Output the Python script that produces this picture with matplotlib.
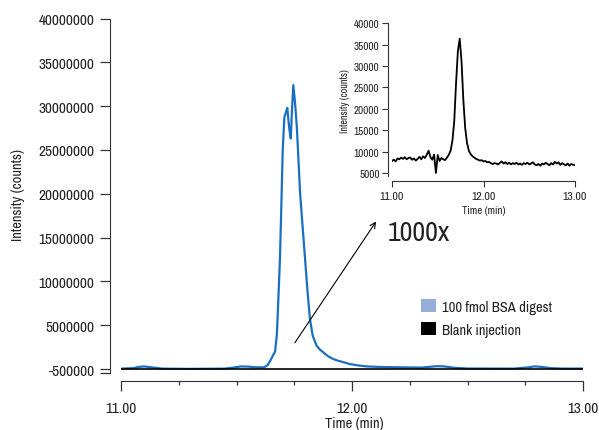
import matplotlib
matplotlib.use("Agg")
import matplotlib.pyplot as plt
from matplotlib.patches import Patch
from matplotlib.ticker import MultipleLocator

plt.rcParams['font.family'] = ['Archivo Narrow', 'DejaVu Sans']

# ---- main chromatogram (100 fmol BSA digest), intensity in counts ----
bsa_time = [11.00, 11.05, 11.08, 11.10, 11.13, 11.18, 11.30, 11.45, 11.49, 11.52,
            11.55, 11.58, 11.62, 11.635, 11.645, 11.655, 11.667, 11.675, 11.682, 11.688,
            11.694, 11.700, 11.707, 11.714, 11.720, 11.728, 11.735, 11.740, 11.746, 11.753,
            11.761, 11.768, 11.775, 11.786, 11.797, 11.807, 11.818, 11.830, 11.847, 11.862,
            11.876, 11.897, 11.919, 11.940, 11.961, 11.991, 12.030, 12.065, 12.12, 12.20,
            12.30, 12.34, 12.37, 12.40, 12.44, 12.50, 12.70, 12.76, 12.79, 12.82,
            12.86, 12.92, 13.00]
bsa_int = [0.05e6, 0.10e6, 0.25e6, 0.30e6, 0.20e6, 0.05e6, 0.02e6, 0.05e6, 0.18e6, 0.30e6,
           0.28e6, 0.20e6, 0.20e6, 0.45e6, 0.9e6, 1.4e6, 2.0e6, 4.0e6, 8.5e6, 12.5e6,
           18.5e6, 24.9e6, 28.7e6, 29.3e6, 29.8e6, 27.5e6, 26.3e6, 29.5e6, 32.4e6, 30.5e6,
           27.7e6, 24.0e6, 20.2e6, 16.3e6, 12.5e6, 9.0e6, 5.7e6, 3.8e6, 2.65e6, 2.2e6,
           1.9e6, 1.45e6, 1.14e6, 0.95e6, 0.80e6, 0.57e6, 0.40e6, 0.30e6, 0.24e6, 0.20e6,
           0.17e6, 0.26e6, 0.33e6, 0.30e6, 0.15e6, 0.06e6, 0.05e6, 0.18e6, 0.30e6, 0.25e6,
           0.10e6, 0.05e6, 0.05e6]

blank_time = [11.00, 13.00]
blank_int = [0.0, 0.0]

main_yticks = [-0.45e6, 0, 5e6, 10e6, 15e6, 20e6, 25e6, 30e6, 35e6, 40e6]
main_ylabels = ['', '-500000', '5000000', '10000000', '15000000', '20000000',
                '25000000', '30000000', '35000000', '40000000']
main_xticks = [11.0, 12.0, 13.0]
main_xlabels = ['11.00', '12.00', '13.00']

# ---- inset: blank injection zoomed (1000x) ----
inset_time = [11.00, 11.02, 11.04, 11.06, 11.08, 11.10, 11.12, 11.14, 11.16, 11.18,
              11.20, 11.22, 11.24, 11.26, 11.28, 11.30, 11.32, 11.34, 11.36, 11.38,
              11.40, 11.42, 11.44, 11.46, 11.48, 11.50, 11.52, 11.54, 11.56, 11.58,
              11.60, 11.62, 11.64, 11.66, 11.68, 11.70, 11.72, 11.74, 11.76, 11.78,
              11.80, 11.82, 11.84, 11.86, 11.88, 11.90, 11.92, 11.94, 11.96, 11.98,
              12.00, 12.02, 12.04, 12.06, 12.08, 12.10, 12.12, 12.14, 12.16, 12.18,
              12.20, 12.22, 12.24, 12.26, 12.28, 12.30, 12.32, 12.34, 12.36, 12.38,
              12.40, 12.42, 12.44, 12.46, 12.48, 12.50, 12.52, 12.54, 12.56, 12.58,
              12.60, 12.62, 12.64, 12.66, 12.68, 12.70, 12.72, 12.74, 12.76, 12.78,
              12.80, 12.82, 12.84, 12.86, 12.88, 12.90, 12.92, 12.94, 12.96, 12.98,
              13.00]
inset_int = [7800, 8100, 7700, 8400, 8200, 8600, 8300, 8700, 8200, 8500,
             8600, 8100, 8400, 7900, 8300, 8800, 8200, 8900, 8500, 9300,
             10200, 8700, 8100, 9300, 5000, 9200, 7800, 8500, 8200, 8000,
             8600, 9200, 10200, 12500, 17000, 26000, 33500, 36400, 31000, 22000,
             15500, 12000, 10200, 9400, 8900, 8600, 8300, 8100, 7900, 8000,
             7700, 7800, 7500, 7600, 7300, 7100, 7300, 7200, 7000, 7400,
             7700, 7200, 7500, 7100, 7400, 7000, 7300, 7100, 7400, 7000,
             7200, 6900, 7300, 7100, 7400, 7000, 7200, 7500, 7000, 6800,
             7100, 6700, 7200, 7000, 7400, 7100, 6800, 7300, 7000, 7600,
             7200, 7500, 6900, 7300, 7000, 6800, 7200, 6700, 7100, 6900,
             6800]
inset_yticks = [5000, 10000, 15000, 20000, 25000, 30000, 35000, 40000]
inset_ylabels = ['5000', '10000', '15000', '20000', '25000', '30000', '35000', '40000']

legend_labels = ['100 fmol BSA digest', 'Blank injection']

blue = '#1b6fc2'
txt = '#222222'
axc = '#333333'

W, H = 599, 431
fig = plt.figure(figsize=(W / 100, H / 100), dpi=100)

def px_axes(l, r, t, b):
    return [l / W, (H - b) / H, (r - l) / W, (b - t) / H]

ax = fig.add_axes(px_axes(121, 583, 19.5, 374))
ax.plot(bsa_time, bsa_int, color=blue, lw=1.6, zorder=2, solid_joinstyle='round')
ax.plot(blank_time, blank_int, color='black', lw=1.2, zorder=3)
ax.set_xlim(11, 13)
ax.set_ylim(-0.45e6, 40e6)
for s in ['top', 'right']:
    ax.spines[s].set_visible(False)
ax.spines['left'].set_position(('outward', 8))
ax.spines['bottom'].set_position(('outward', 6))
ax.spines['left'].set_color(axc)
ax.spines['bottom'].set_color(axc)
ax.set_yticks(main_yticks)
ax.set_yticklabels(main_ylabels)
ax.set_xticks(main_xticks)
ax.set_xticklabels(main_xlabels)
ax.xaxis.set_minor_locator(MultipleLocator(0.25))
ax.tick_params(axis='y', length=7, width=0.9, pad=4, labelsize=11, colors=axc, labelcolor=txt)
ax.tick_params(axis='x', which='major', length=7.2, width=0.9, pad=7, labelsize=11, colors=axc, labelcolor=txt)
ax.tick_params(axis='x', which='minor', length=3, width=0.9, colors=axc)
ax.set_xlabel('Time (min)', fontsize=10.5, color=txt, va='top')
ax.xaxis.set_label_coords(0.504, -0.122)
ax.set_ylabel('Intensity (counts)', fontsize=10.5, color=txt, va='bottom')
ax.yaxis.set_label_coords(-0.207, 0.505)

# arrow + 1000x
ax.annotate('', xy=(12.111, 17.1e6), xytext=(11.746, 2.74e6),
            arrowprops=dict(arrowstyle='->', color='black', lw=0.8, mutation_scale=10))
ax.text(12.156, 15.6e6, '1000x', fontsize=20, color=txt, va='center', ha='left')

# legend
handles = [Patch(facecolor='#96acd9', edgecolor='none'), Patch(facecolor='black', edgecolor='none')]
fig.legend(handles, legend_labels, loc='upper left', bbox_to_anchor=(421 / W, (H - 300) / H),
           frameon=False, fontsize=10.5, handlelength=1.0, handleheight=1.0,
           handletextpad=0.45, labelspacing=0.6, borderpad=0, borderaxespad=0,
           labelcolor=txt)

# inset
axi = fig.add_axes(px_axes(392, 575, 24.3, 177.4))
axi.plot(inset_time, inset_int, color='black', lw=1.3)
axi.set_xlim(11, 13)
axi.set_ylim(4200, 40000)
for s in ['top', 'right']:
    axi.spines[s].set_visible(False)
axi.spines['left'].set_position(('outward', 3))
axi.spines['bottom'].set_position(('outward', 3.5))
axi.spines['left'].set_color(axc)
axi.spines['bottom'].set_color(axc)
axi.set_yticks(inset_yticks)
axi.set_yticklabels(inset_ylabels)
axi.set_xticks(main_xticks)
axi.set_xticklabels(main_xlabels)
axi.tick_params(axis='y', length=4, width=0.8, pad=2, labelsize=8, colors=axc, labelcolor=txt)
axi.tick_params(axis='x', length=4, width=0.8, pad=3, labelsize=8.5, colors=axc, labelcolor=txt)
axi.set_xlabel('Time (min)', fontsize=7.8, color=txt, labelpad=3)
axi.set_ylabel('Intensity (counts)', fontsize=7.3, color=txt, labelpad=3)

fig.savefig('out.png', dpi=100)
